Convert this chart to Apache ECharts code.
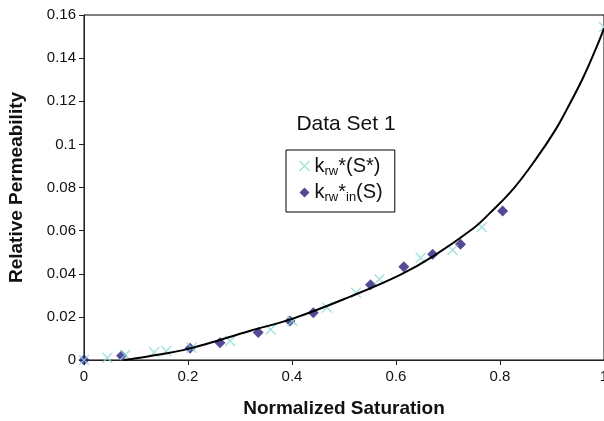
<!DOCTYPE html>
<html>
<head>
<meta charset="utf-8">
<script src="https://cdn.jsdelivr.net/npm/echarts@6/dist/echarts.min.js"></script>
<style>html,body{margin:0;padding:0;background:#fff;}#c{width:604px;height:421px;}</style>
</head>
<body>
<div id="c"></div>
<script>
// Data
var crossS   = [0, 0.045, 0.079, 0.135, 0.158, 0.207, 0.281, 0.359, 0.401, 0.467, 0.523, 0.568, 0.6475, 0.709, 0.765, 1.0];
var crossK   = [0, 0.0010, 0.0023, 0.0036, 0.0042, 0.0057, 0.0088, 0.0142, 0.0181, 0.0244, 0.0312, 0.0374, 0.0474, 0.0510, 0.0616, 0.1544];
var diamS    = [0, 0.0724, 0.204, 0.2615, 0.335, 0.396, 0.441, 0.551, 0.615, 0.6705, 0.724, 0.805];
var diamK    = [0, 0.0020, 0.0054, 0.0080, 0.0127, 0.0181, 0.0219, 0.0349, 0.0433, 0.0490, 0.0537, 0.0691];
var curveS   = [0.076, 0.12, 0.204, 0.32, 0.403, 0.512, 0.608, 0.672, 0.749, 0.78, 0.826, 0.87, 0.906, 0.928, 0.96, 0.986, 1.0];
var curveK   = [0, 0.0015, 0.0054, 0.0136, 0.0193, 0.0294, 0.0395, 0.0482, 0.0611, 0.0680, 0.0795, 0.0935, 0.1065, 0.1160, 0.1310, 0.1453, 0.1538];
var xTicks   = [0, 0.2, 0.4, 0.6, 0.8, 1];
var yTicks   = [0, 0.02, 0.04, 0.06, 0.08, 0.1, 0.12, 0.14, 0.16];
var seriesNames = ['krw*(S*)', 'krw*in(S)'];
var chartTitle = 'Data Set 1';
var xName = 'Normalized Saturation';
var yName = 'Relative Permeability';

function zip(a, b) { return a.map(function (v, i) { return [v, b[i]]; }); }

var FONT = 'Liberation Sans, Arial, Helvetica, sans-serif';
var CYAN = '#8edbd4';
var NAVY = '#281e7c';
var CROSS = 'path://M0,0L10,10M10,0L0,10';

var chart = echarts.init(document.getElementById('c'), null, {renderer: 'canvas'});
chart.setOption({
  animation: false,
  backgroundColor: '#fff',
  textStyle: {fontFamily: FONT},
  grid: {left: 84, right: 0, top: 15, bottom: 61, show: true, borderColor: '#000', borderWidth: 1,
         containLabel: false, outerBoundsMode: 'none'},
  title: {
    text: chartTitle, left: 341, top: 109, textAlign: 'center',
    textStyle: {fontFamily: FONT, fontSize: 21, fontWeight: 'normal', color: '#111'}
  },
  legend: {
    orient: 'vertical', left: 286, top: 150,
    padding: [6, 12, 8, 11],
    itemWidth: 10, itemHeight: 10, itemGap: 5,
    borderColor: '#000', borderWidth: 1, backgroundColor: '#fff',
    data: [
      {name: seriesNames[0], icon: CROSS, itemStyle: {color: 'none', borderColor: CYAN, borderWidth: 1.4}},
      {name: seriesNames[1], icon: 'diamond', itemStyle: {color: NAVY}}
    ],
    formatter: function (n) {
      if (n === seriesNames[0]) return '{m|k}{s|rw}{m|*(S*)}';
      return '{m|k}{s|rw}{m|*}{s|in}{m|(S)}';
    },
    textStyle: {
      fontFamily: FONT, color: '#111',
      rich: {
        m: {fontFamily: FONT, fontSize: 20, lineHeight: 23, color: '#111'},
        s: {fontFamily: FONT, fontSize: 13, lineHeight: 12, verticalAlign: 'bottom', color: '#111'}
      }
    }
  },
  xAxis: {
    type: 'value', min: 0, max: 1, interval: 0.2,
    name: xName, nameLocation: 'middle', nameGap: 39,
    nameTextStyle: {fontFamily: FONT, fontSize: 19, fontWeight: 'bold', color: '#111'},
    axisLine: {show: true, lineStyle: {color: '#222', width: 1}},
    axisTick: {show: true, length: 5, lineStyle: {color: '#222'}},
    axisLabel: {fontFamily: FONT, fontSize: 15, color: '#111', margin: 9, hideOverlap: false,
      formatter: function (v) { var i = xTicks.findIndex(function (t) { return Math.abs(t - v) < 1e-9; }); return i >= 0 ? String(xTicks[i]) : ''; }},
    splitLine: {show: false}
  },
  yAxis: {
    type: 'value', min: 0, max: 0.16, interval: 0.02,
    name: yName, nameLocation: 'middle', nameGap: 58,
    nameTextStyle: {fontFamily: FONT, fontSize: 19, fontWeight: 'bold', color: '#111'},
    axisLine: {show: true, lineStyle: {color: '#222', width: 1}},
    axisTick: {show: true, length: 5, lineStyle: {color: '#222'}},
    axisLabel: {fontFamily: FONT, fontSize: 15, color: '#111', margin: 8,
      formatter: function (v) { var i = yTicks.findIndex(function (t) { return Math.abs(t - v) < 1e-9; }); return i >= 0 ? String(yTicks[i]) : ''; }},
    splitLine: {show: false}
  },
  series: [
    {
      name: seriesNames[1], type: 'scatter', data: zip(diamS, diamK),
      symbol: 'diamond', symbolSize: 11, itemStyle: {color: NAVY}, z: 2
    },
    {
      name: seriesNames[0], type: 'scatter', data: zip(crossS, crossK),
      symbol: CROSS, symbolSize: 10,
      itemStyle: {color: 'none', borderColor: CYAN, borderWidth: 1.4}, z: 3
    },
    {
      name: 'fit', type: 'line', data: zip(curveS, curveK), smooth: 0.4,
      symbol: 'none', lineStyle: {color: '#000', width: 2}, z: 4, clip: false
    }
  ]
});
</script>
</body>
</html>
